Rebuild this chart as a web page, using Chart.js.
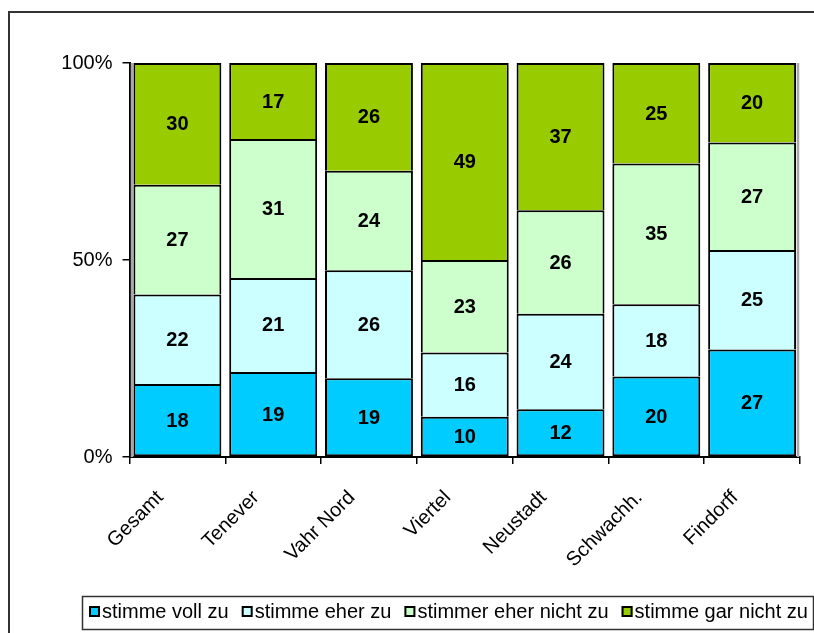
<!DOCTYPE html>
<html><head><meta charset="utf-8">
<script src="https://cdn.jsdelivr.net/npm/chart.js@4"></script>
<style>html,body{margin:0;padding:0;background:#fff;overflow:hidden}#wrap{width:814px;height:633px;position:relative}</style>
</head><body><div id="wrap"><canvas id="c" width="814" height="633"></canvas></div>
<script>
const categories = ['Gesamt', 'Tenever', 'Vahr Nord', 'Viertel', 'Neustadt', 'Schwachh.', 'Findorff'];
const seriesNames = ['stimme voll zu', 'stimme eher zu', 'stimmer eher nicht zu', 'stimme gar nicht zu'];
const stimmeVollZu = [18, 19, 19, 10, 12, 20, 27];
const stimmeEherZu = [22, 21, 26, 16, 24, 18, 25];
const stimmerEherNichtZu = [27, 31, 24, 23, 26, 35, 27];
const stimmeGarNichtZu = [30, 17, 26, 49, 37, 25, 20];
const yTickLabels = ['0%', '50%', '100%'];

const seriesValues = [stimmeVollZu, stimmeEherZu, stimmerEherNichtZu, stimmeGarNichtZu];
const colors = ['#00CCFF', '#CCFFFF', '#CCFFCC', '#99CC00'];
const FONT = 'Arial, "Liberation Sans", sans-serif';

// 100% stacked: share of each category total
const totals = categories.map((_, i) => seriesValues.reduce((s, arr) => s + arr[i], 0));
const datasets = seriesValues.map((arr, k) => ({
  label: seriesNames[k],
  data: arr.map((v, i) => v / totals[i] * 100),
  raw: arr,
  backgroundColor: colors[k],
  borderColor: '#000',
  borderSkipped: false,
  borderWidth: {left: 2, right: 2, top: 2, bottom: k === 0 ? 2 : 0},
  barPercentage: 0.918,
  categoryPercentage: 1.0
}));

const framePlugin = {
  id: 'frame',
  beforeDraw(chart) {
    const ctx = chart.ctx;
    ctx.save();
    ctx.fillStyle = '#fff';
    ctx.fillRect(0, 0, chart.width, chart.height);
    ctx.strokeStyle = '#333';
    ctx.lineWidth = 2;
    ctx.strokeRect(9, 12, 900, 700);
    ctx.restore();
  },
  beforeDatasetsDraw(chart) {
    const ctx = chart.ctx, a = chart.chartArea;
    ctx.save();
    ctx.strokeStyle = '#A8A8A8';
    ctx.lineWidth = 2.5;
    ctx.beginPath();
    ctx.moveTo(a.left + 2.5, a.top); ctx.lineTo(a.left + 2.5, a.bottom);
    ctx.moveTo(a.right - 2, a.top); ctx.lineTo(a.right - 2, a.bottom);
    ctx.stroke();
    ctx.restore();
  },
  afterDatasetsDraw(chart) {
    const ctx = chart.ctx;
    ctx.save();
    ctx.font = 'bold 20px ' + FONT;
    ctx.fillStyle = '#000';
    ctx.textAlign = 'center';
    ctx.textBaseline = 'middle';
    chart.data.datasets.forEach((ds, k) => {
      const meta = chart.getDatasetMeta(k);
      meta.data.forEach((el, i) => {
        ctx.fillText(String(ds.raw[i]), el.x, (el.y + el.base) / 2 + 1);
      });
    });
    ctx.restore();
  },
  afterDraw(chart) {
    const ctx = chart.ctx;
    ctx.save();
    ctx.strokeStyle = '#333';
    ctx.lineWidth = 1.5;
    ctx.strokeRect(82.5, 596.5, 731, 33);
    ctx.font = '20px ' + FONT;
    ctx.textBaseline = 'middle';
    let x = 89;
    const yMid = 611.5;
    chart.data.datasets.forEach((ds) => {
      ctx.fillStyle = ds.backgroundColor;
      ctx.fillRect(x, yMid - 5.5, 11, 11);
      ctx.strokeStyle = '#000';
      ctx.lineWidth = 2;
      ctx.strokeRect(x + 1, yMid - 4.5, 9, 9);
      ctx.fillStyle = '#000';
      ctx.textAlign = 'left';
      ctx.fillText(ds.label, x + 13, yMid + 1);
      x += 13 + ctx.measureText(ds.label).width + 13;
    });
    ctx.restore();
  }
};

new Chart(document.getElementById('c'), {
  type: 'bar',
  data: {labels: categories, datasets: datasets},
  plugins: [framePlugin],
  options: {
    responsive: false,
    animation: false,
    devicePixelRatio: 1,
    layout: {padding: {left: 0, right: 14, top: 63, bottom: 0}},
    plugins: {legend: {display: false}, tooltip: {enabled: false}},
    scales: {
      x: {
        stacked: true,
        afterFit(scale) { scale.height = 176; },
        grid: {display: true, drawOnChartArea: false, drawTicks: true, tickLength: 7, color: '#000', lineWidth: 1.5, offset: true},
        border: {display: true, color: '#000', width: 2},
        ticks: {color: '#000', font: {family: FONT, size: 20}, maxRotation: 45, minRotation: 45, labelOffset: -17, padding: 22, autoSkip: false}
      },
      y: {
        stacked: true,
        min: 0, max: 100,
        afterFit(scale) { scale.width = 129.5; },
        grid: {display: true, drawOnChartArea: false, drawTicks: true, tickLength: 7, color: '#000', lineWidth: 1.5},
        border: {display: true, color: '#000', width: 2},
        ticks: {stepSize: 50, color: '#000', font: {family: FONT, size: 20}, padding: 10,
          callback: (v) => yTickLabels[Math.round(v / 50)]}
      }
    }
  }
});
</script></body></html>
